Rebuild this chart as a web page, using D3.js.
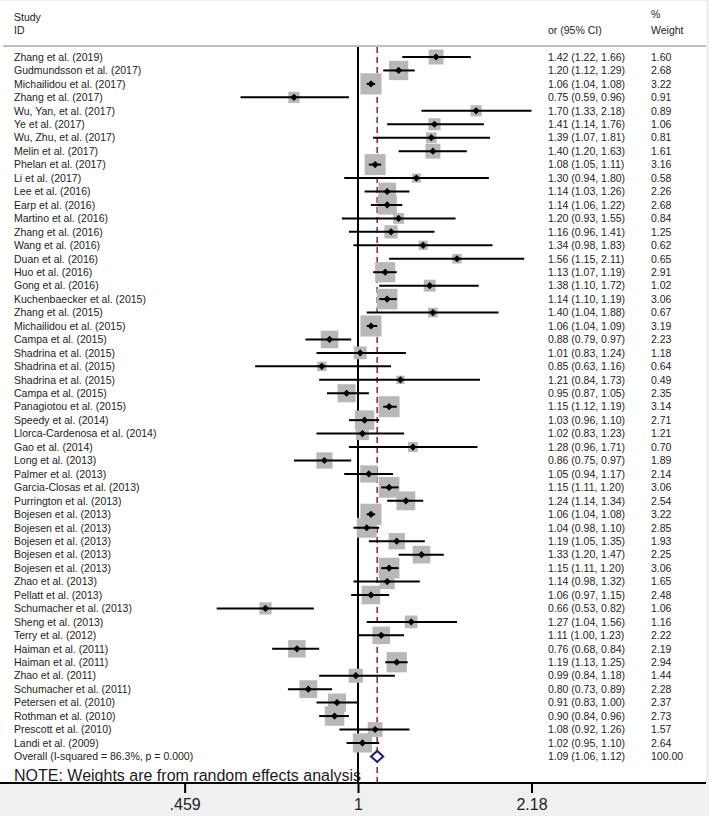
<!DOCTYPE html>
<html>
<head>
<meta charset="utf-8">
<script src="https://cdn.jsdelivr.net/npm/d3@7"></script>
<style>
  body { margin: 0; background: #f0f0f0; }
  svg { display: block; font-family: "Liberation Sans", Arial, sans-serif; }
</style>
</head>
<body>
<div id="chart"></div>
<script>
// Forest plot data
const studies = [
  'Zhang et al. (2019)', 'Gudmundsson et al. (2017)', 'Michailidou et al. (2017)', 'Zhang et al. (2017)',
  'Wu, Yan, et al. (2017)', 'Ye et al. (2017)', 'Wu, Zhu, et al. (2017)', 'Melin et al. (2017)',
  'Phelan et al. (2017)', 'Li et al. (2017)', 'Lee et al. (2016)', 'Earp et al. (2016)',
  'Martino et al. (2016)', 'Zhang et al. (2016)', 'Wang et al. (2016)', 'Duan et al. (2016)',
  'Huo et al. (2016)', 'Gong et al. (2016)', 'Kuchenbaecker et al. (2015)', 'Zhang et al. (2015)',
  'Michailidou et al. (2015)', 'Campa et al. (2015)', 'Shadrina et al. (2015)', 'Shadrina et al. (2015)',
  'Shadrina et al. (2015)', 'Campa et al. (2015)', 'Panagiotou et al. (2015)', 'Speedy et al. (2014)',
  'Llorca-Cardenosa et al. (2014)', 'Gao et al. (2014)', 'Long et al. (2013)', 'Palmer et al. (2013)',
  'Garcia-Closas et al. (2013)', 'Purrington et al. (2013)', 'Bojesen et al. (2013)', 'Bojesen et al. (2013)',
  'Bojesen et al. (2013)', 'Bojesen et al. (2013)', 'Bojesen et al. (2013)', 'Zhao et al. (2013)',
  'Pellatt et al. (2013)', 'Schumacher et al. (2013)', 'Sheng et al. (2013)', 'Terry et al. (2012)',
  'Haiman et al. (2011)', 'Haiman et al. (2011)', 'Zhao et al. (2011)', 'Schumacher et al. (2011)',
  'Petersen et al. (2010)', 'Rothman et al. (2010)', 'Prescott et al. (2010)', 'Landi et al. (2009)'
];
const orValues = [
  1.42, 1.20, 1.06, 0.75, 1.70, 1.41, 1.39, 1.40, 1.08, 1.30, 1.14, 1.14, 1.20, 1.16, 1.34, 1.56,
  1.13, 1.38, 1.14, 1.40, 1.06, 0.88, 1.01, 0.85, 1.21, 0.95, 1.15, 1.03, 1.02, 1.28, 0.86, 1.05,
  1.15, 1.24, 1.06, 1.04, 1.19, 1.33, 1.15, 1.14, 1.06, 0.66, 1.27, 1.11, 0.76, 1.19, 0.99, 0.80,
  0.91, 0.90, 1.08, 1.02
];
const lowerCI = [
  1.22, 1.12, 1.04, 0.59, 1.33, 1.14, 1.07, 1.20, 1.05, 0.94, 1.03, 1.06, 0.93, 0.96, 0.98, 1.15,
  1.07, 1.10, 1.10, 1.04, 1.04, 0.79, 0.83, 0.63, 0.84, 0.87, 1.12, 0.96, 0.83, 0.96, 0.75, 0.94,
  1.11, 1.14, 1.04, 0.98, 1.05, 1.20, 1.11, 0.98, 0.97, 0.53, 1.04, 1.00, 0.68, 1.13, 0.84, 0.73,
  0.83, 0.84, 0.92, 0.95
];
const upperCI = [
  1.66, 1.29, 1.08, 0.96, 2.18, 1.76, 1.81, 1.63, 1.11, 1.80, 1.26, 1.22, 1.55, 1.41, 1.83, 2.11,
  1.19, 1.72, 1.19, 1.88, 1.09, 0.97, 1.24, 1.16, 1.73, 1.05, 1.19, 1.10, 1.23, 1.71, 0.97, 1.17,
  1.20, 1.34, 1.08, 1.10, 1.35, 1.47, 1.20, 1.32, 1.15, 0.82, 1.56, 1.23, 0.84, 1.25, 1.18, 0.89,
  1.00, 0.96, 1.26, 1.10
];
const weights = [
  1.60, 2.68, 3.22, 0.91, 0.89, 1.06, 0.81, 1.61, 3.16, 0.58, 2.26, 2.68, 0.84, 1.25, 0.62, 0.65,
  2.91, 1.02, 3.06, 0.67, 3.19, 2.23, 1.18, 0.64, 0.49, 2.35, 3.14, 2.71, 1.21, 0.70, 1.89, 2.14,
  3.06, 2.54, 3.22, 2.85, 1.93, 2.25, 3.06, 1.65, 2.48, 1.06, 1.16, 2.22, 2.19, 2.94, 1.44, 2.28,
  2.37, 2.73, 1.57, 2.64
];
const overallLabel = 'Overall  (I-squared = 86.3%, p = 0.000)';
const overall = [1.09, 1.06, 1.12]; // or, lower, upper
const overallWeight = 100.00;
const tickValues = [0.459, 1, 2.18];
const tickLabels = ['.459', '1', '2.18'];

const W = 709, H = 816;
const plotRight = 706, axisY = 783;
const firstRowY = 57, rowStep = 13.45;
const labelX = 14, orX = 548, wtX = 651;
const textColor = '#1c1c1c';

const svg = d3.select('#chart').append('svg')
  .attr('width', W)
  .attr('height', H);

// white panel, gray outside
svg.append('rect')
  .attr('x', 0).attr('y', 1)
  .attr('width', plotRight).attr('height', axisY - 1)
  .attr('fill', '#fff');

const x = d3.scaleLog()
  .domain([1 / 2.18, 2.18])
  .range([184.5, 531.5]);

const y = i => firstRowY + i * rowStep;

// Header
const header = svg.append('g')
  .style('font-size', '10.5px')
  .style('fill', textColor);
header.append('text').attr('x', labelX).attr('y', 21).text('Study');
header.append('text').attr('x', labelX).attr('y', 34).text('ID');
header.append('text').attr('x', orX).attr('y', 34).text('or (95% CI)');
header.append('text').attr('x', wtX).attr('y', 18).text('%');
header.append('text').attr('x', wtX).attr('y', 34).text('Weight');

svg.append('line')
  .attr('x1', 3).attr('x2', plotRight)
  .attr('y1', 46).attr('y2', 46)
  .attr('stroke', '#a8a8a8')
  .attr('stroke-width', 1.5);

// Null line at 1
svg.append('line')
  .attr('x1', x(1)).attr('x2', x(1))
  .attr('y1', 47).attr('y2', axisY)
  .attr('stroke', '#000')
  .attr('stroke-width', 2);

// Overall effect dashed line
svg.append('line')
  .attr('x1', x(overall[0])).attr('x2', x(overall[0]))
  .attr('y1', 47).attr('y2', axisY)
  .attr('stroke', '#a3283a')
  .attr('stroke-width', 1.6)
  .attr('stroke-dasharray', '6,4');

const data = studies.map((s, i) => ({
  study: s, or: orValues[i], lo: lowerCI[i], hi: upperCI[i], w: weights[i], i
}));

// Weight boxes
const boxK = 11.8;
svg.selectAll('rect.box')
  .data(data)
  .enter()
  .append('rect')
  .attr('class', 'box')
  .attr('x', d => x(d.or) - boxK * Math.sqrt(d.w) / 2)
  .attr('y', d => y(d.i) - boxK * Math.sqrt(d.w) / 2)
  .attr('width', d => boxK * Math.sqrt(d.w))
  .attr('height', d => boxK * Math.sqrt(d.w))
  .attr('fill', '#b8b8b8');

// CI lines
svg.selectAll('line.ci')
  .data(data)
  .enter()
  .append('line')
  .attr('class', 'ci')
  .attr('x1', d => x(d.lo))
  .attr('x2', d => x(d.hi))
  .attr('y1', d => y(d.i))
  .attr('y2', d => y(d.i))
  .attr('stroke', '#000')
  .attr('stroke-width', 2);

// Point estimates (small square diamonds)
const pr = 3.6;
svg.selectAll('path.pt')
  .data(data)
  .enter()
  .append('path')
  .attr('class', 'pt')
  .attr('d', `M0,${-pr} L${pr},0 L0,${pr} L${-pr},0 Z`)
  .attr('transform', d => `translate(${x(d.or)},${y(d.i)})`)
  .attr('fill', '#000');

// Text columns
const rows = svg.append('g')
  .style('font-size', '10.5px')
  .style('fill', textColor);

rows.selectAll('text.study')
  .data(data)
  .enter()
  .append('text')
  .attr('x', labelX)
  .attr('y', d => y(d.i))
  .attr('dy', '.36em')
  .text(d => d.study);

rows.selectAll('text.or')
  .data(data)
  .enter()
  .append('text')
  .attr('x', orX)
  .attr('y', d => y(d.i))
  .attr('dy', '.36em')
  .text(d => `${d.or.toFixed(2)} (${d.lo.toFixed(2)}, ${d.hi.toFixed(2)})`);

rows.selectAll('text.wt')
  .data(data)
  .enter()
  .append('text')
  .attr('x', wtX)
  .attr('y', d => y(d.i))
  .attr('dy', '.36em')
  .text(d => d.w.toFixed(2));

// Overall row
const oy = y(studies.length);
rows.append('text').attr('x', labelX).attr('y', oy).attr('dy', '.36em').text(overallLabel);
rows.append('text').attr('x', orX).attr('y', oy).attr('dy', '.36em')
  .text(`${overall[0].toFixed(2)} (${overall[1].toFixed(2)}, ${overall[2].toFixed(2)})`);
rows.append('text').attr('x', wtX).attr('y', oy).attr('dy', '.36em').text(overallWeight.toFixed(2));

const dh = 5.5;
svg.append('path')
  .attr('d', `M${x(overall[1])},${oy} L${x(overall[0])},${oy - dh} L${x(overall[2])},${oy} L${x(overall[0])},${oy + dh} Z`)
  .attr('fill', '#fff')
  .attr('stroke', '#1a1a80')
  .attr('stroke-width', 2);

// Note
svg.append('text')
  .attr('x', labelX)
  .attr('y', 781)
  .style('font-size', '16px')
  .style('fill', textColor)
  .text('NOTE: Weights are from random effects analysis');

// Axis
const axis = svg.append('g')
  .attr('transform', `translate(0,${axisY})`)
  .call(d3.axisBottom(x)
    .tickValues(tickValues)
    .tickFormat((d, i) => tickLabels[i])
    .tickSize(10)
    .tickPadding(6));
axis.select('.domain').remove();
axis.selectAll('.tick line').attr('stroke', '#000').attr('stroke-width', 2);
axis.selectAll('.tick text')
  .style('font-family', '"Liberation Sans", Arial, sans-serif')
  .style('font-size', '16px')
  .attr('fill', textColor);

svg.append('line')
  .attr('x1', 0).attr('x2', plotRight)
  .attr('y1', axisY).attr('y2', axisY)
  .attr('stroke', '#000')
  .attr('stroke-width', 2);
</script>
</body>
</html>
